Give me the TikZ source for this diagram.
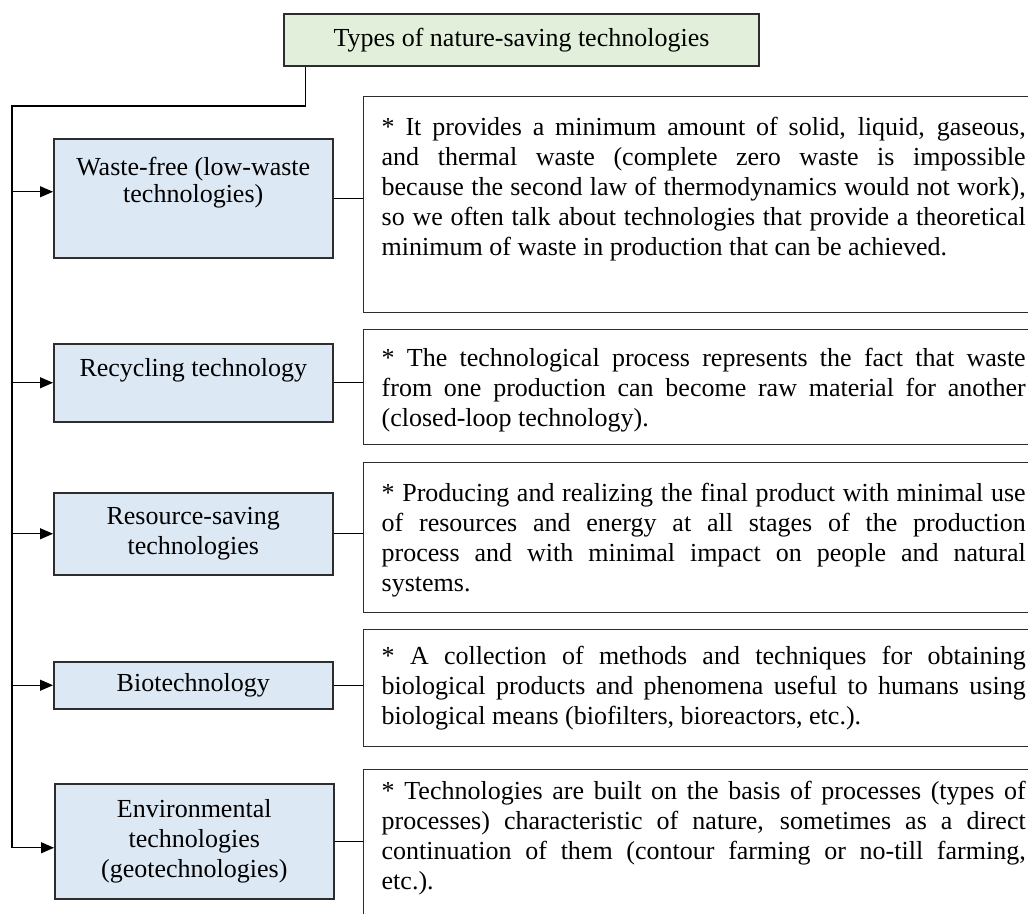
\documentclass[tikz,border=0pt]{standalone}
\usepackage{fontspec}
\setmainfont{Liberation Serif}
\usepackage{xcolor}
\usetikzlibrary{arrows.meta}
\definecolor{titlegreen}{RGB}{226,239,218}
\definecolor{typeblue}{RGB}{221,232,245}
\definecolor{rimgray}{RGB}{45,45,45}
\newcommand{\bodyfont}{\fontsize{26}{30}\selectfont}
\newcommand{\toptext}[3]{\parbox[c][#1][t]{#2}{\bodyfont\hyphenpenalty=10000 #3}}

\begin{document}
\begin{tikzpicture}[x=1pt,y=-1pt,
		titlebox/.style={draw=rimgray,line width=1.5pt,fill=titlegreen,minimum width=475,minimum height=52,inner sep=0pt,font=\bodyfont},
		typebox/.style={draw=rimgray,line width=1.5pt,fill=typeblue,minimum width=279,inner sep=0pt,align=center,anchor=north west,font=\bodyfont},
		notebox/.style={draw=rimgray,line width=1.4pt,fill=white,minimum width=680,inner sep=0pt,anchor=north west,font=\bodyfont},
		link/.style={line width=1.1pt,draw=black},
		feed/.style={link,-{Triangle[length=13pt,width=11pt]}}]
				\path[use as bounding box,clip] (0,0) rectangle (1028,913);
				\node[titlebox] (title) at (521.5,40) {Types of nature-saving technologies};
				\node[typebox,minimum height=119] (waste) at (53,138) {\toptext{83pt}{279pt}{\centering\fontsize{26}{27}\selectfont Waste-free (low-waste\\technologies)}};
				\node[typebox,minimum height=78] (recycle) at (53,343) {\toptext{48pt}{279pt}{\centering Recycling technology}};
				\node[typebox,minimum height=82] (resource) at (53,492) {Resource-saving\\technologies};
				\node[typebox,minimum height=47] (bio) at (53,661) {Biotechnology};
				\node[typebox,minimum height=115] (geo) at (54,783) {Environmental\\technologies\\(geotechnologies)};
				\node[notebox,minimum height=216] (note1) at (363,96) {\toptext{176pt}{644pt}{* It provides a minimum amount of solid, liquid, gaseous,\linebreak and thermal waste (complete zero waste is impossible\linebreak because the second law of thermodynamics would not work),\linebreak so we often talk about technologies that provide a theoretical\linebreak minimum of waste in production that can be achieved.}};
				\node[notebox,minimum height=115] (note2) at (363,329) {\toptext{79pt}{644pt}{* The technological process represents the fact that waste\linebreak from one production can become raw material for another\linebreak (closed-loop technology).}};
				\node[notebox,minimum height=150] (note3) at (363,462) {\toptext{110pt}{644pt}{* Producing and realizing the final product with minimal use\linebreak of resources and energy at all stages of the production\linebreak process and with minimal impact on people and natural\linebreak systems.}};
				\node[notebox,minimum height=117] (note4) at (363,629) {\toptext{85pt}{644pt}{* A collection of methods and techniques for obtaining\linebreak biological products and phenomena useful to humans using\linebreak biological means (biofilters, bioreactors, etc.).}};
				\node[notebox,minimum height=200] (note5) at (363,769) {\toptext{178pt}{644pt}{* Technologies are built on the basis of processes (types of\linebreak processes) characteristic of nature, sometimes as a direct\linebreak continuation of them (contour farming or no-till farming,\linebreak etc.).}};
				\coordinate (trunk) at (12,106);
				\coordinate (wastein) at ([yshift=6.5pt]waste.west);
				\coordinate (geoin) at ([yshift=-6.5pt]geo.west);
				\draw[link] ([xshift=22pt]title.south west) |- (trunk) -- (trunk |- geoin);
				\foreach \t in {wastein,recycle.west,resource.west,bio.west,geoin}
					\draw[feed] (trunk |- \t) -- (\t);
				\foreach \t/\n in {waste/note1,recycle/note2,resource/note3,bio/note4,geo/note5}
					\draw[link] (\t.east) -- (\t.east -| \n.west);
\end{tikzpicture}
\end{document}
